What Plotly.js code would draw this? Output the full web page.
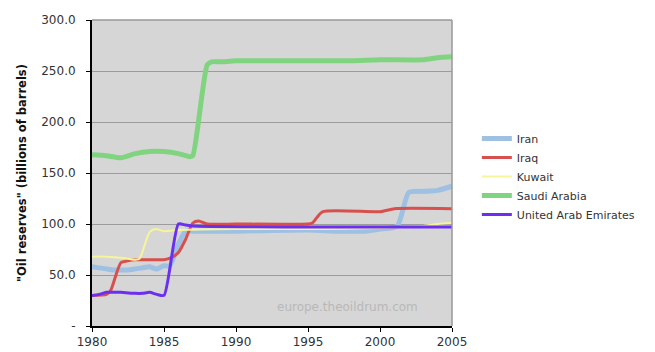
<!DOCTYPE html>
<html>
<head>
<meta charset="utf-8">
<script src="https://cdn.plot.ly/plotly-3.0.1.min.js"></script>
<style>html,body{margin:0;padding:0;background:#fff;}#chart{width:655px;height:352px;}</style>
</head>
<body>
<div id="chart"></div>
<script>
// Years (fractional points where the curve bends)
const iranYears  = [1980,1980.5,1981,1981.5,1982,1982.5,1983,1983.5,1984,1984.5,1985,1985.4,1986,1986.5,1987,1990,1995,1997,1999,2000,2001.2,2002,2003,2004,2005];
const iranValues = [58,57,56,55,55,55,56,57,58,56,59,59,80,93,93,93,94,93,93,95,98,131,132,133,137];

const iraqYears  = [1980,1981,1981.3,1982,1982.5,1983,1984,1985,1985.5,1986,1986.5,1987,1987.4,1988,1990,1995,1995.3,1996,2000,2001,2005];
const iraqValues = [30,31,35,62,64,65,65,65,67,72,85,101,103,100,100,100,101,112,112,115,115];

const kuwaitYears  = [1980,1981,1982,1983,1983.3,1984,1984.4,1985,1986,1990,1995,2000,2003,2004,2005];
const kuwaitValues = [68,68,67,65,66,92,95,93,94,95,95,96,98,100,101];

const saudiYears  = [1980,1981,1982,1983,1984,1985,1986,1986.8,1987,1988,1988.3,1989,1990,1995,1998,2000,2003,2004,2005];
const saudiValues = [168,167,165,169,171,171,169,166,167,256,259,259,260,260,260,261,261,263,264];

const uaeYears  = [1980,1980.5,1981,1982,1983,1983.5,1984,1984.5,1985,1986,1986.5,1987,1995,2005];
const uaeValues = [30,31,33,33,32,32,33,31,30,100,99,98,97,97];

const yTickVals = [0,50,100,150,200,250,300];
const yTickText = ['-','50.0','100.0','150.0','200.0','250.0','300.0'];
const xTickVals = [1980,1985,1990,1995,2000,2005];

function tr(name, x, y, color, width) {
  return {type:'scatter', mode:'lines', name:name, x:x, y:y,
    line:{color:color, width:width, shape:'spline', smoothing:0.6}};
}

const data = [
  tr('Iran', iranYears, iranValues, '#9dc0e3', 5),
  tr('Iraq', iraqYears, iraqValues, '#d8504d', 3),
  tr('Kuwait', kuwaitYears, kuwaitValues, '#f6f59a', 2),
  tr('Saudi Arabia', saudiYears, saudiValues, '#80d480', 5),
  tr('United Arab Emirates', uaeYears, uaeValues, '#6a2ff0', 3)
];

const layout = {
  width:655, height:352,
  margin:{l:92, r:203, t:20, b:26},
  paper_bgcolor:'#ffffff',
  plot_bgcolor:'#d6d6d6',
  font:{family:'DejaVu Sans, Verdana, sans-serif', size:12, color:'#333'},
  showlegend:true,
  legend:{xref:'container', yref:'container', x:0.728, y:0.648, xanchor:'left', yanchor:'top',
    font:{size:11, color:'#333'}, itemwidth:30,
    bgcolor:'rgba(0,0,0,0)', tracegroupgap:0},
  xaxis:{range:[1980,2005], tickvals:xTickVals, ticktext:xTickVals.map(String),
    showgrid:false, zeroline:false, showline:true, linecolor:'#000', linewidth:2,
    ticks:'outside', ticklen:4, tickcolor:'#000', mirror:false, fixedrange:true,
    tickfont:{size:12, color:'#333'}},
  yaxis:{range:[0,300], tickvals:yTickVals, ticktext:yTickText,
    showgrid:true, gridcolor:'#9c9c9c', gridwidth:1, zeroline:false,
    showline:true, linecolor:'#000', linewidth:2, ticks:'outside', ticklen:4, tickcolor:'#000',
    tickfont:{size:12, color:'#333'}, ticklabelstandoff:8,
    title:{text:'<b>"Oil reserves" (billions of barrels)</b>', font:{size:11.5, color:'#111'}, standoff:12}},
  shapes:[
    {type:'line', xref:'paper', yref:'paper', x0:0, x1:1, y0:1, y1:1, line:{color:'#999', width:1.5}},
    {type:'line', xref:'paper', yref:'paper', x0:1, x1:1, y0:0, y1:1, line:{color:'#999', width:1.5}}
  ],
  annotations:[
    {text:'europe.theoildrum.com', xref:'paper', yref:'paper', x:0.711, y:0.062,
     xanchor:'center', yanchor:'middle',
     showarrow:false, font:{size:12, color:'#b8b8b8'}}
  ]
};

Plotly.newPlot('chart', data, layout, {displayModeBar:false, staticPlot:true});
</script>
</body>
</html>
